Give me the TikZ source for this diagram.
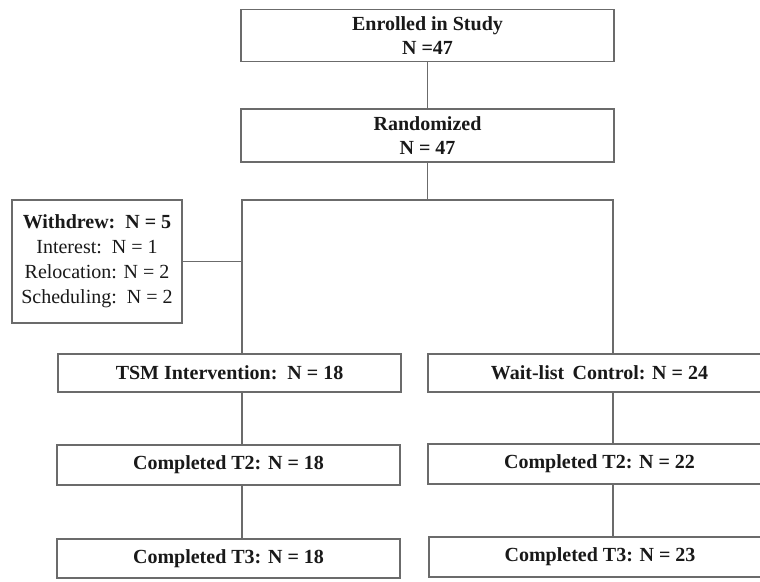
\documentclass[tikz,border=0pt]{standalone}
\usepackage{fontspec}
\setmainfont{Liberation Serif}
\begin{document}
\begin{tikzpicture}[x=1pt,y=-1pt,
  box/.style={draw=black!58, line width=1.3pt, rectangle, inner sep=0pt, align=center,
    font=\fontsize{20}{24}\selectfont\bfseries, text=black!90},
  conn/.style={draw=black!58, line width=1.2pt}]
\useasboundingbox (0,0) rectangle (760,581);
\clip (0,0) rectangle (760,581);
\fill[white] (0,0) rectangle (760,581);
\node[box, minimum width=373pt, minimum height=52pt] (enr) at (427.5,35.5) {Enrolled in Study\\N =47};
\node[box, minimum width=373pt, minimum height=53pt] (rand) at (427.5,135.5) {Randomized\\N = 47};
\node[box, minimum width=170pt, minimum height=123pt, font=\fontsize{20}{25}\selectfont] (wd) at (97,261.5)
  {\textbf{Withdrew:\, N = 5}\\Interest:\, N = 1\\Relocation: N = 2\\Scheduling:\, N = 2};
\node[box, minimum width=343pt, minimum height=38pt] (tsm) at (229.5,373) {TSM Intervention:\, N = 18};
\node[box, minimum width=343pt, minimum height=38pt] (wl) at (599.5,373) {Wait-list\, Control: N = 24};
\node[box, minimum width=343pt, minimum height=40pt] (t2l) at (228.5,465) {Completed T2: N = 18};
\node[box, minimum width=343pt, minimum height=40pt] (t2r) at (599.5,464) {Completed T2: N = 22};
\node[box, minimum width=343pt, minimum height=39pt] (t3l) at (228.5,558.5) {Completed T3: N = 18};
\node[box, minimum width=342pt, minimum height=40pt] (t3r) at (600,557) {Completed T3: N = 23};
\coordinate (bl) at (242,200);
\coordinate (br) at (613,200);
\coordinate (bm) at (427.5,200);
\draw[conn] (enr.south) -- (rand.north);
\draw[conn] (rand.south) -- (bm);
\draw[conn] (bl |- tsm.north) -- (bl) -- (br) -- (br |- wl.north);
\draw[conn] (wd.east) -- (wd.east -| bl);
\draw[conn] (bl |- tsm.south) -- (bl |- t2l.north);
\draw[conn] (bl |- t2l.south) -- (bl |- t3l.north);
\draw[conn] (br |- wl.south) -- (br |- t2r.north);
\draw[conn] (br |- t2r.south) -- (br |- t3r.north);
\end{tikzpicture}
\end{document}
